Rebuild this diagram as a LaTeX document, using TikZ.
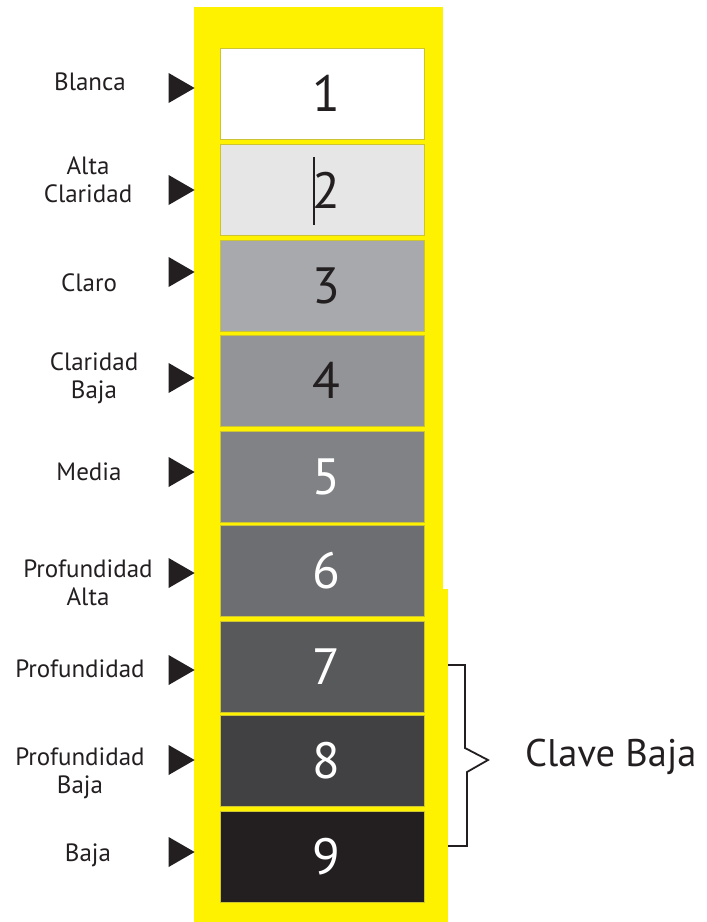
\documentclass[tikz,border=0pt]{standalone}
\usepackage{fontspec}
\setmainfont{PT Sans}
\usetikzlibrary{shapes.geometric}
\definecolor{amarillo}{HTML}{FFF200}
\definecolor{tinta}{HTML}{231F20}
\definecolor{g1}{HTML}{FFFFFF}
\definecolor{g2}{HTML}{E6E6E7}
\definecolor{g3}{HTML}{A7A9AC}
\definecolor{g4}{HTML}{929497}
\definecolor{g5}{HTML}{808285}
\definecolor{g6}{HTML}{6D6E71}
\definecolor{g7}{HTML}{58595B}
\definecolor{g8}{HTML}{414042}
\definecolor{g9}{HTML}{231F20}

\begin{document}
\begin{tikzpicture}[x=1pt,y=-1pt,
    valor/.style={draw=amarillo!60!gray,line width=0.6pt,minimum width=204pt,
      minimum height=91pt,inner sep=0pt},
    cifra/.style={inner sep=0pt,font=\fontsize{51}{51}\selectfont},
    etiqueta/.style={align=center,text=tinta,inner sep=0pt,
      font=\fontsize{25}{28}\selectfont},
    flecha/.style={isosceles triangle,isosceles triangle apex angle=60,fill=tinta,
      inner sep=0pt,minimum height=26pt,anchor=apex}]
    \useasboundingbox (0,0) rectangle (707,922);
    % marco amarillo
    \fill[amarillo] (194,7) rectangle (443,922);
    \fill[amarillo] (440,589) rectangle (448,922);
    % escala de grises
    \node[valor,fill=g1] (b1) at (322,93.5) {};
    \node[valor,fill=g2] (b2) at (322,190) {};
    \node[valor,fill=g3] (b3) at (322,286) {};
    \node[valor,fill=g4] (b4) at (322,380.5) {};
    \node[valor,fill=g5] (b5) at (322,477) {};
    \node[valor,fill=g6] (b6) at (322,570.5) {};
    \node[valor,fill=g7] (b7) at (322,666.5) {};
    \node[valor,fill=g8] (b8) at (322,760.5) {};
    \node[valor,fill=g9] (b9) at (322,857) {};
    \node[cifra,text=tinta] (n1) at ([xshift=4pt]b1) {1};
    \node[cifra,text=tinta] (n2) at ([xshift=4pt]b2) {2};
    \node[cifra,text=tinta] (n3) at ([xshift=4pt]b3) {3};
    \node[cifra,text=tinta] (n4) at ([xshift=4pt]b4) {4};
    \node[cifra,text=white] (n5) at ([xshift=4pt]b5) {5};
    \node[cifra,text=white] (n6) at ([xshift=4pt]b6) {6};
    \node[cifra,text=white] (n7) at ([xshift=4pt]b7) {7};
    \node[cifra,text=white] (n8) at ([xshift=4pt]b8) {8};
    \node[cifra,text=white] (n9) at ([xshift=4pt]b9) {9};
    \draw[tinta,line width=1.4pt] (314,157) -- (314,225);
    %
    \node[etiqueta] (l1) at (90,82) {Blanca};
    \node[etiqueta] (l2) at (88,180) {Alta\\Claridad};
    \node[etiqueta] (l3) at (89,283) {Claro};
    \node[etiqueta] (l4) at (94,378) {Claridad\\Baja};
    \node[etiqueta] (l5) at (89,472) {Media};
    \node[etiqueta] (l6) at (88,583) {Profundidad\\Alta};
    \node[etiqueta] (l7) at (80,669) {Profundidad};
    \node[etiqueta] (l8) at (80,773) {Profundidad\\Baja};
    \node[etiqueta] (l9) at (88,855) {Baja};
    %
    \node[flecha] (f1) at (195,88) {};
    \node[flecha] (f2) at (195,190) {};
    \node[flecha] (f3) at (195,272) {};
    \node[flecha] (f4) at (195,378) {};
    \node[flecha] (f5) at (195,472) {};
    \node[flecha] (f6) at (195,573) {};
    \node[flecha] (f7) at (195,670) {};
    \node[flecha] (f8) at (195,760) {};
    \node[flecha] (f9) at (195,852) {};
    % llave
    \coordinate (c1) at (448,665);
    \coordinate (c2) at (448,846);
    \draw[tinta,line width=1.8pt] (c1) -- (465,665) -- (465,748)
      -- (488,760) -- (467,772) -- (467,846) -- (c2);
    \node[text=tinta,anchor=west,inner sep=0pt,font=\fontsize{38.5}{38.5}\selectfont]
      (clave) at (525,757) {Clave Baja};
  \end{tikzpicture}
\end{document}
